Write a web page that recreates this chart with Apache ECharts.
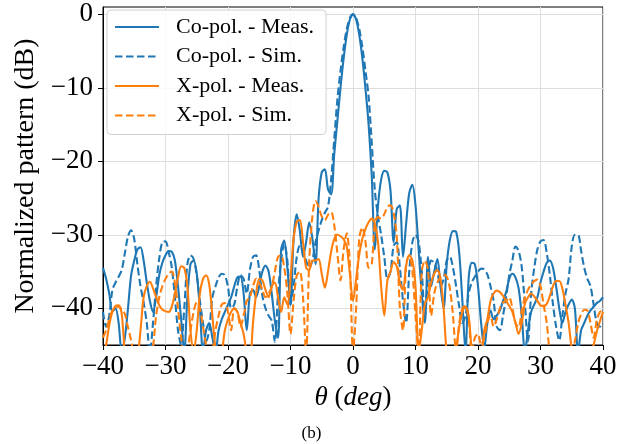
<!DOCTYPE html>
<html><head><meta charset="utf-8">
<script src="https://cdn.jsdelivr.net/npm/echarts@6/dist/echarts.min.js"></script>
<style>html,body{margin:0;padding:0;background:#fff}#c{width:623px;height:444px}</style>
</head><body><div id="c"></div>
<script>
// angle samples (deg)
const theta = [
-40,-39.5,-39,-38.5,-38,-37.5,-37,-36.5,-36,-35.5,
-35,-34.5,-34,-33.5,-33,-32.5,-32,-31.5,-31,-30.5,
-30,-29.5,-29,-28.5,-28,-27.5,-27,-26.5,-26,-25.5,
-25,-24.5,-24,-23.5,-23,-22.5,-22,-21.5,-21,-20.5,
-20,-19.5,-19,-18.5,-18,-17.5,-17,-16.5,-16,-15.5,
-15,-14.5,-14,-13.5,-13,-12.5,-12,-11.5,-11,-10.5,
-10,-9.5,-9,-8.5,-8,-7.5,-7,-6.5,-6,-5.5,
-5,-4.5,-4,-3.5,-3,-2.5,-2,-1.5,-1,-0.5,
0,0.5,1,1.5,2,2.5,3,3.5,4,4.5,
5,5.5,6,6.5,7,7.5,8,8.5,9,9.5,
10,10.5,11,11.5,12,12.5,13,13.5,14,14.5,
15,15.5,16,16.5,17,17.5,18,18.5,19,19.5,
20,20.5,21,21.5,22,22.5,23,23.5,24,24.5,
25,25.5,26,26.5,27,27.5,28,28.5,29,29.5,
30,30.5,31,31.5,32,32.5,33,33.5,34,34.5,
35,35.5,36,36.5,37,37.5,38,38.5,39,39.5,
40];
const coMeas = [
-34.5,-36,-38,-40.5,-40,-42,-46,-44,-40,-35.5,
-33.5,-32,-31.7,-33.5,-36.5,-39,-40.5,-38.5,-35.5,-33.8,
-32.8,-32.2,-32.3,-33.5,-37,-41.5,-46,-38.5,-34,-33.5,
-35.3,-40,-46,-43,-42,-44,-46,-43,-41.5,-40.5,
-39.5,-38.5,-37,-35.8,-35.7,-38,-43,-38,-37.5,-38.5,
-37,-35,-34.2,-35,-38,-41.7,-44,-32,-30.8,-34.5,
-39.5,-30.5,-27.2,-29.5,-33,-31,-28.3,-30.5,-34,-25,
-21.5,-21.1,-23.8,-24.5,-19,-14.5,-10,-6,-2.8,-0.7,
0,-0.7,-2.8,-6,-10.2,-15,-22,-32,-26,-22.5,
-21.3,-21.5,-24,-31,-26.5,-26,-33,-28.5,-24.3,-23.2,
-26,-32,-38,-42,-33,-37,-35,-33.3,-37,-40,
-34,-30.7,-29.5,-29.6,-32.5,-39,-46,-36,-33.8,-34,
-37,-42,-45.5,-42,-40.3,-41.5,-41,-40.3,-39,-37.8,
-36,-35.3,-35.8,-37.3,-41,-46,-43,-40.5,-39.5,-38.5,
-36.5,-35,-33.8,-33.5,-34.5,-37,-40,-42,-40.5,-39.5,
-38.8,-40,-46,-43,-42,-41,-40.3,-39.8,-39.3,-39,
-38.5];
const coSim = [
-40.5,-42.5,-41,-37.5,-36.5,-35.7,-34.8,-32.5,-30.2,-29.4,
-30.6,-34,-37,-39.2,-42,-46,-42,-37,-33.2,-31,
-30.9,-32.3,-34.4,-38.5,-43,-45,-40,-34,-32.8,-33.3,
-35.5,-39,-42,-44.5,-43,-38.5,-37,-35.8,-35.3,-35.5,
-37.1,-40,-39.5,-37,-35.5,-36,-38,-34.8,-33,-32.8,
-34.8,-38.3,-40,-41,-41.7,-44.6,-38,-33.5,-31.2,-33.5,
-39.5,-37,-33,-31.5,-32,-33.5,-34.5,-33.5,-31,-29.4,
-28,-27,-26.2,-22.5,-17,-11.6,-7.7,-4.5,-2,-0.5,
0,-0.5,-2,-4.5,-7.7,-11.2,-17.5,-24,-27.5,-30,
-33,-36,-35,-31.5,-31,-34.5,-39,-42,-35,-31,
-30,-31,-35,-41,-36,-33.5,-33.8,-35,-37,-36,
-33.5,-33,-34.5,-37,-39.8,-42,-41,-38,-36.5,-35.7,
-35,-34.6,-34.7,-35.4,-37,-39,-42.5,-43,-41,-38.5,
-35.5,-33.5,-31.6,-32.2,-34.4,-39.4,-44.5,-38,-34.5,-32,
-30.9,-30.7,-32.5,-35.5,-39.5,-42.5,-44.4,-41,-38,-36,
-31.6,-30,-30,-32.2,-34.5,-36,-37,-39.5,-42,-42.5,
-42];
const xMeas = [
-47,-45,-42.3,-40.5,-39.7,-39.6,-40.8,-46,-48,-48,
-48,-47,-43,-38.5,-37,-36.4,-37.3,-38.5,-39.6,-40.2,
-40.4,-40.5,-39.8,-38,-35.8,-34.3,-34.5,-37,-43,-46,
-43,-38,-36,-35.5,-36.8,-41,-45.5,-47,-46,-43,
-41.5,-40.5,-40,-40.5,-42,-43.5,-46,-47,-42,-38,
-36,-36.2,-37.5,-38.5,-37,-36.5,-38.5,-40.5,-38.5,-39.5,
-36,-30.5,-28.2,-28,-31,-34.5,-34.8,-33.5,-33.5,-33.3,
-35.3,-37.2,-35,-32.3,-30.6,-30,-30.2,-30.6,-31.6,-35.3,
-39,-36,-32.7,-30.5,-29.2,-28.3,-27.8,-28.5,-31,-37,
-41,-36.2,-35,-33.7,-34.3,-36.5,-37.5,-34.2,-32.8,-33.5,
-37,-46,-43,-39.4,-38.5,-36.5,-35.3,-34.8,-36,-40,
-46,-47,-47,-45.5,-42.5,-40.5,-39.8,-41,-45.5,-47,
-48,-47,-43,-41.5,-39,-38,-37.6,-37.8,-38.3,-39,
-39.7,-40.5,-42,-43.5,-42,-39.4,-38.5,-38,-38.4,-39,
-39.6,-39.7,-39.4,-38.3,-37,-36.3,-36.3,-37.3,-39.5,-42,
-45.5,-47,-48,-48,-48,-47,-46.5,-45,-43.2,-41.8,
-40.5];
const xSim = [
-44,-43,-41.5,-40.3,-39.8,-39.8,-40.2,-40.8,-42.6,-44.4,
-47,-48,-48,-48,-48,-47,-45.3,-41,-38.5,-37,
-36,-35.3,-35,-36.5,-40,-44,-47,-46,-43,-40.5,
-39.2,-40,-42.5,-45,-47,-46,-43,-41,-39.5,-39.3,
-40.5,-43,-40,-40.5,-42.5,-41,-39,-38.5,-37,-36,
-36.5,-37.5,-38.5,-38,-37.1,-35,-33,-32.8,-34.5,-38,
-43.5,-39,-35.5,-35,-38.5,-46,-33.5,-27.5,-25.4,-26.2,
-27.5,-28,-27.3,-26.9,-28.7,-32.5,-36.2,-32,-29.8,-34,
-46,-40,-30.5,-29,-31,-34.5,-34,-28.3,-27.6,-27.8,
-27.2,-26.2,-26,-27,-30.3,-40,-43,-34,-32.8,-35,
-41,-46,-35,-33.5,-34.8,-41,-38,-36.5,-35.8,-35.4,
-35.7,-37.3,-41,-46,-42,-40,-39.7,-41.3,-46,-44,
-43.5,-45,-44,-42,-41,-42.5,-41.5,-40,-39.2,-39,
-38.5,-40,-42,-42.6,-40.3,-38.5,-37.5,-36.8,-36.3,-36.1,
-37,-39.5,-42,-46,-47,-48,-48,-48,-47,-47,
-46,-44.5,-42.1,-40.8,-40.2,-40.3,-42,-44,-41.7,-40.5,
-40.3];
const seriesNames = ['Co-pol. - Meas.', 'Co-pol. - Sim.', 'X-pol. - Meas.', 'X-pol. - Sim.'];
const xTicks = [-40, -30, -20, -10, 0, 10, 20, 30, 40];
const yTicks = [-40, -30, -20, -10, 0];

const FONT = 'Liberation Serif';
const BLUE = '#1f77b4', ORANGE = '#ff7f0e';
const DASH = [7.5, 3.5];
const minus = v => String(v).replace('-', '\u2212');
const pairs = arr => theta.map((t, i) => [t, arr[i]]);
const mk = (name, arr, color, dashed) => ({
  name, type: 'line', data: pairs(arr), showSymbol: false, symbol: 'none',
  smooth: 0.3, clip: true, z: 3,
  lineStyle: { color, width: 2.1, type: dashed ? DASH : 'solid' },
  itemStyle: { color }
});

const chart = echarts.init(document.getElementById('c'), null, { renderer: 'canvas' });
chart.setOption({
  animation: false,
  textStyle: { fontFamily: FONT, color: '#000' },
  title: { text: '(b)', left: 'center', top: 420,
    textStyle: { fontFamily: FONT, fontSize: 17, fontWeight: 'normal', color: '#000' } },
  grid: { left: 103, right: 20, top: 7, bottom: 99, show: true, borderColor: '#000', borderWidth: 1, backgroundColor: 'rgba(0,0,0,0)' },
  legend: {
    data: seriesNames, orient: 'vertical', left: 107, top: 10,
    padding: [6, 12, 8, 7], itemWidth: 44, itemHeight: 14, itemGap: 7.5,
    itemStyle: { color: 'rgba(0,0,0,0)', borderWidth: 0, opacity: 0 },
    backgroundColor: 'rgba(255,255,255,0.85)', borderColor: '#d0d0d0', borderWidth: 1, borderRadius: 4,
    textStyle: { fontFamily: FONT, fontSize: 22, color: '#000', lineHeight: 22, padding: [0, 0, 0, 12] }
  },
  xAxis: {
    type: 'value', min: -40, max: 40, interval: 10,
    name: '{i|θ} ({i|deg})', nameLocation: 'middle', nameGap: 37,
    nameTextStyle: { fontFamily: FONT, fontSize: 27, color: '#000',
      rich: { i: { fontFamily: FONT, fontSize: 27, fontStyle: 'italic', color: '#000' } } },
    axisLine: { show: true, onZero: false, lineStyle: { color: '#000', width: 1 } },
    axisTick: { show: true, inside: false, length: 5, lineStyle: { color: '#000' }, customValues: xTicks },
    axisLabel: { fontFamily: FONT, fontSize: 27, color: '#000', margin: 8, formatter: minus, customValues: xTicks },
    splitLine: { show: true, lineStyle: { color: '#dedede', width: 1 } }
  },
  yAxis: {
    type: 'value', min: -45, max: 1,
    name: 'Normalized pattern (dB)', nameLocation: 'middle', nameGap: 62, nameRotate: 90,
    nameTextStyle: { fontFamily: FONT, fontSize: 28, color: '#000' },
    axisLine: { show: true, onZero: false, lineStyle: { color: '#000', width: 1 } },
    axisTick: { show: true, inside: false, length: 5, lineStyle: { color: '#000' }, customValues: yTicks },
    axisLabel: { fontFamily: FONT, fontSize: 27, color: '#000', margin: 10, formatter: minus, customValues: yTicks },
    splitLine: { show: true, lineStyle: { color: '#dedede', width: 1 } }
  },
  series: [
    mk(seriesNames[0], coMeas, BLUE, false),
    mk(seriesNames[1], coSim, BLUE, true),
    mk(seriesNames[2], xMeas, ORANGE, false),
    mk(seriesNames[3], xSim, ORANGE, true)
  ]
});
</script>
</body></html>
